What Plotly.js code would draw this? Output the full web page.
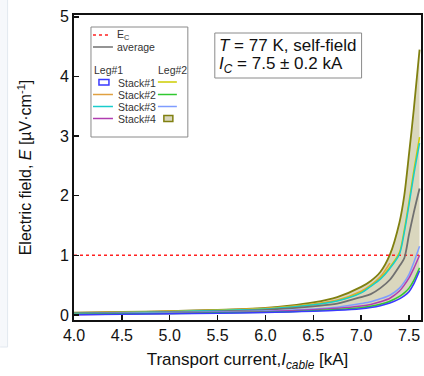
<!DOCTYPE html>
<html>
<head>
<meta charset="utf-8">
<script src="https://cdn.plot.ly/plotly-3.0.1.min.js"></script>
<style>html,body{margin:0;padding:0;background:#fff;}#chart{width:424px;height:376px;}</style>
</head>
<body>
<div id="chart"></div>
<script>
// ---- data ----
const current = [4.0, 4.5, 5.0, 5.5, 6.0, 6.25, 6.5, 6.75, 7.0, 7.1, 7.2, 7.3, 7.4, 7.45, 7.5, 7.55, 7.61];
const envelopeUpper = [0.04, 0.05, 0.065, 0.085, 0.12, 0.155, 0.21, 0.30, 0.47, 0.57, 0.72, 1.01, 1.55, 2.0, 2.7, 3.45, 4.45];
const stack1Leg1 = [0.005, 0.012, 0.02, 0.03, 0.04, 0.05, 0.062, 0.078, 0.105, 0.125, 0.155, 0.20, 0.27, 0.32, 0.39, 0.52, 0.74];
const stack2Leg1 = [0.035, 0.045, 0.06, 0.08, 0.11, 0.14, 0.185, 0.25, 0.40, 0.50, 0.64, 0.87];
const stack3Leg1 = [0.03, 0.04, 0.055, 0.075, 0.10, 0.13, 0.17, 0.235, 0.37, 0.48, 0.60, 0.78, 1.02, 1.38, 1.85, 2.35, 2.88];
const stack4Leg1 = [0.005, 0.015, 0.025, 0.04, 0.055, 0.07, 0.085, 0.11, 0.15, 0.175, 0.22, 0.28, 0.40, 0.50, 0.62, 0.78, 1.0];
const stack1Leg2 = [0.032, 0.042, 0.057, 0.077, 0.103, 0.133, 0.174, 0.24, 0.38, 0.49, 0.615, 0.80, 1.05, 1.42, 1.9, 2.42, 2.98];
const stack2Leg2 = [0.01, 0.02, 0.025, 0.035, 0.045, 0.055, 0.07, 0.09, 0.12, 0.145, 0.18, 0.23, 0.31, 0.37, 0.45, 0.58, 0.79];
const stack3Leg2 = [0.02, 0.03, 0.04, 0.05, 0.065, 0.08, 0.10, 0.13, 0.19, 0.22, 0.27, 0.33, 0.45, 0.55, 0.68, 0.88, 1.15];
const average = [0.025, 0.035, 0.045, 0.06, 0.085, 0.11, 0.145, 0.19, 0.30, 0.35, 0.45, 0.59, 0.82, 0.95, 1.35, 1.72, 2.12];
const criterionX = [4.0, 7.61];
const criterionE = [1, 1];
const xTicks = [4.0, 4.5, 5.0, 5.5, 6.0, 6.5, 7.0, 7.5];
const yTicks = [0, 1, 2, 3, 4, 5];

const FONT = 'Liberation Sans, Arial, sans-serif';
const C = {
  blue: '#3a3aff', orange: '#e0a040', cyan: '#19cccc', magenta: '#b03cb0',
  yellow: '#cccc00', green: '#30c830', lightblue: '#7f9cff', olive: '#808010',
  band: 'rgba(214,211,183,0.9)', gray: '#707070', red: '#ff2020'
};

const line = (x, y, color, name, w) => ({
  x: x, y: y, type: 'scatter', mode: 'lines', name: name, showlegend: false,
  line: {color: color, width: w || 1.5, shape: 'spline', smoothing: 0.8},
  hoverinfo: 'skip'
});

const traces = [
  line(current, stack1Leg1, 'rgba(0,0,0,0)', 'band low', 0),
  Object.assign(line(current, envelopeUpper, C.olive, 'Stack#4 Leg#2', 1.8), {fill: 'tonexty', fillcolor: C.band}),
  {x: criterionX, y: criterionE, type: 'scatter', mode: 'lines', showlegend: false,
   line: {color: C.red, width: 1.5, dash: 'dot'}, hoverinfo: 'skip'},
  line(current.slice(0, stack2Leg1.length), stack2Leg1, C.orange, 'Stack#2 Leg#1'),
  line(current, stack1Leg2, C.yellow, 'Stack#1 Leg#2'),
  line(current, stack3Leg1, C.cyan, 'Stack#3 Leg#1'),
  line(current, average, C.gray, 'average', 1.8),
  line(current, stack3Leg2, C.lightblue, 'Stack#3 Leg#2'),
  line(current, stack4Leg1, C.magenta, 'Stack#4 Leg#1'),
  line(current, stack2Leg2, C.green, 'Stack#2 Leg#2'),
  line(current, stack1Leg1, C.blue, 'Stack#1 Leg#1')
];

// pixel -> paper helpers for the hand-drawn legend/text box
const L = 74, R = 421.5, T = 15, B = 320;
const X = px => (px - L) / (R - L);
const Y = py => (B - py) / (B - T);

const shapes = [
  // faint frame artifact at the left edge
  {type: 'rect', xref: 'paper', yref: 'paper', x0: X(0), x1: X(7), y0: Y(347), y1: Y(0), fillcolor: '#f6f8fb', line: {width: 0}, layer: 'below'},
  {type: 'line', xref: 'paper', yref: 'paper', x0: X(7.5), x1: X(7.5), y0: Y(347), y1: Y(0), line: {color: '#e2e8ef', width: 1}},
  {type: 'line', xref: 'paper', yref: 'paper', x0: X(0), x1: X(7.5), y0: Y(347), y1: Y(347), line: {color: '#e2e8ef', width: 1}},
  // legend box
  {type: 'rect', xref: 'paper', yref: 'paper', x0: X(91), x1: X(188), y0: Y(137), y1: Y(27), line: {color: '#8a8a8a', width: 1}, fillcolor: 'white'},
  {type: 'line', xref: 'paper', yref: 'paper', x0: X(93), x1: X(111), y0: Y(35), y1: Y(35), line: {color: C.red, width: 1.5, dash: 'dot'}},
  {type: 'line', xref: 'paper', yref: 'paper', x0: X(93), x1: X(113), y0: Y(47), y1: Y(47), line: {color: C.gray, width: 1.5}},
  {type: 'rect', xref: 'paper', yref: 'paper', x0: X(99), x1: X(109), y0: Y(85), y1: Y(79.5), line: {color: C.blue, width: 1.5}},
  {type: 'line', xref: 'paper', yref: 'paper', x0: X(93), x1: X(113), y0: Y(94.5), y1: Y(94.5), line: {color: C.orange, width: 1.5}},
  {type: 'line', xref: 'paper', yref: 'paper', x0: X(93), x1: X(113), y0: Y(106.5), y1: Y(106.5), line: {color: C.cyan, width: 1.5}},
  {type: 'line', xref: 'paper', yref: 'paper', x0: X(93), x1: X(113), y0: Y(118.5), y1: Y(118.5), line: {color: C.magenta, width: 1.5}},
  {type: 'line', xref: 'paper', yref: 'paper', x0: X(158), x1: X(177), y0: Y(82), y1: Y(82), line: {color: C.yellow, width: 1.5}},
  {type: 'line', xref: 'paper', yref: 'paper', x0: X(158), x1: X(177), y0: Y(94.5), y1: Y(94.5), line: {color: C.green, width: 1.5}},
  {type: 'line', xref: 'paper', yref: 'paper', x0: X(158), x1: X(177), y0: Y(106.5), y1: Y(106.5), line: {color: C.lightblue, width: 1.5}},
  {type: 'rect', xref: 'paper', yref: 'paper', x0: X(164), x1: X(173), y0: Y(121.5), y1: Y(115.5), line: {color: C.olive, width: 1.5}, fillcolor: C.band},
  // text box
  {type: 'rect', xref: 'paper', yref: 'paper', x0: X(215), x1: X(362), y0: Y(78), y1: Y(33), line: {color: '#8a8a8a', width: 1}, fillcolor: 'white'}
];

const legText = (px, py, text) => ({
  xref: 'paper', yref: 'paper', x: X(px), y: Y(py), xanchor: 'left', yanchor: 'middle',
  text: text, showarrow: false, font: {family: FONT, size: 10.5, color: '#333'}
});

const annotations = [
  legText(115, 35, 'E<sub>C</sub>'),
  legText(115, 47, 'average'),
  legText(92, 70, 'Leg#1'),
  legText(156, 70, 'Leg#2'),
  legText(116, 82.5, 'Stack#1'),
  legText(116, 94.5, 'Stack#2'),
  legText(116, 106.5, 'Stack#3'),
  legText(116, 118.5, 'Stack#4'),
  {xref: 'paper', yref: 'paper', x: X(217), y: Y(45.5), xanchor: 'left', yanchor: 'middle', showarrow: false,
   text: '<i>T</i> = 77 K, self-field', font: {family: FONT, size: 17, color: '#111'}},
  {xref: 'paper', yref: 'paper', x: X(217), y: Y(65), xanchor: 'left', yanchor: 'middle', showarrow: false,
   text: '<i>I</i><sub><i>C</i></sub> = 7.5 ± 0.2 kA', font: {family: FONT, size: 17, color: '#111'}}
];

const axisCommon = {
  showgrid: false, zeroline: false, showline: true, linecolor: '#111', linewidth: 2, mirror: true,
  ticks: 'inside', ticklen: 5, tickwidth: 1.5, tickcolor: '#111',
  tickfont: {family: FONT, size: 16, color: '#111'}, fixedrange: true
};

const layout = {
  width: 424, height: 376,
  margin: {l: L, r: 424 - R, t: T, b: 376 - B},
  paper_bgcolor: 'white', plot_bgcolor: 'white',
  showlegend: false,
  font: {family: FONT, color: '#111'},
  xaxis: Object.assign({}, axisCommon, {
    range: [4.0, 7.625], tickvals: xTicks, ticktext: xTicks.map(v => v.toFixed(1)),
    title: {text: 'Transport current,<i>I</i><sub><i>cable</i></sub> [kA]', font: {family: FONT, size: 17, color: '#111'}, standoff: 10}
  }),
  yaxis: Object.assign({}, axisCommon, {
    range: [-0.085, 5.03], tickvals: yTicks, ticktext: yTicks.map(String),
    title: {text: 'Electric field, <i>E</i> [µV·cm<sup>-1</sup>]', font: {family: FONT, size: 16, color: '#111'}, standoff: 24}
  }),
  shapes: shapes,
  annotations: annotations
};

Plotly.newPlot('chart', traces, layout, {displayModeBar: false, staticPlot: true});
</script>
</body>
</html>
